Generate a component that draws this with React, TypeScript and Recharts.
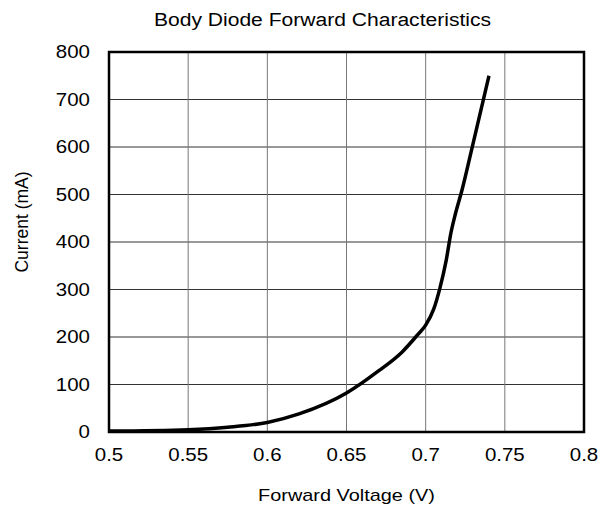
import { LineChart, Line, XAxis, YAxis, CartesianGrid, ReferenceArea, Label } from "recharts";

// forward voltage (V) and current (mA)
const voltage = [0.5, 0.55, 0.575, 0.6, 0.62, 0.65, 0.67, 0.685, 0.695, 0.7, 0.705, 0.709, 0.713, 0.716, 0.719, 0.723, 0.729, 0.74];
const current = [2, 5, 10, 20, 38, 82, 128, 168, 205, 225, 258, 303, 362, 420, 462, 510, 594, 750];

const xTicks = [0.5, 0.55, 0.6, 0.65, 0.7, 0.75, 0.8];
const yTicks = [0, 100, 200, 300, 400, 500, 600, 700, 800];

const data = voltage.map((v, i) => ({ v, i: current[i] }));

const FONT = "Arial, 'Liberation Sans', sans-serif";
const STRETCH = 1.17; // the source text is a bit wider than plain Arial

const XTick = ({ x, y, payload }: any) => (
  <g transform={`translate(${x},${y})`}>
    <text transform={`scale(${STRETCH},1)`} textAnchor="middle" dy="0.71em" fill="#000" fontSize={17.5} fontFamily={FONT}>
      {String(payload.value)}
    </text>
  </g>
);

const YTick = ({ x, y, payload }: any) => (
  <g transform={`translate(${x},${y})`}>
    <text transform={`scale(${STRETCH},1)`} textAnchor="end" dy="0.355em" fill="#000" fontSize={17.5} fontFamily={FONT}>
      {String(payload.value)}
    </text>
  </g>
);

export default function App() {
  return (
    <div style={{ position: "absolute", left: 0, top: 0, width: 601, height: 510, background: "#fff", fontFamily: FONT }}>
      <div
        style={{
          position: "absolute",
          top: 10,
          left: 22,
          width: 601,
          textAlign: "center",
          fontSize: 18,
          color: "#000",
          transform: `scale(${STRETCH},1)`,
          zIndex: 1,
        }}
      >
        Body Diode Forward Characteristics
      </div>
      <LineChart width={601} height={510} data={data} margin={{ top: 52, right: 17, bottom: 0, left: 0 }}>
        <CartesianGrid stroke="#333" strokeWidth={1} vertical={false} horizontalValues={yTicks} />
        <CartesianGrid stroke="#777" strokeWidth={1} horizontal={false} verticalValues={xTicks} />
        <XAxis
          type="number"
          dataKey="v"
          domain={[0.5, 0.8]}
          ticks={xTicks}
          height={78}
          tickLine={false}
          axisLine={false}
          tickSize={0}
          tickMargin={17}
          tick={<XTick />}
        >
          <Label
            position="insideBottom"
            content={({ viewBox }: any) => (
              <g transform={`translate(${viewBox.x + viewBox.width / 2},${viewBox.y + viewBox.height - 9})`}>
                <text transform={`scale(${STRETCH},1)`} textAnchor="middle" fill="#000" fontSize={17} fontFamily={FONT}>
                  Forward Voltage (V)
                </text>
              </g>
            )}
          />
        </XAxis>
        <YAxis
          type="number"
          domain={[0, 800]}
          ticks={yTicks}
          width={109}
          tickLine={false}
          axisLine={false}
          tickSize={0}
          tickMargin={19}
          tick={<YTick />}
        >
          <Label
            position="insideLeft"
            content={() => (
              <text x={22} y={222} transform="rotate(-90,22,222)" textAnchor="middle" dy="0.355em" fill="#000" fontSize={17.5} fontFamily={FONT}>
                Current (mA)
              </text>
            )}
          />
        </YAxis>
        <ReferenceArea x1={0.5} x2={0.8} y1={0} y2={800} fill="none" stroke="#000" strokeWidth={2.5} ifOverflow="visible" />
        <Line type="monotone" dataKey="i" stroke="#000" strokeWidth={3.5} dot={false} isAnimationActive={false} />
      </LineChart>
    </div>
  );
}
